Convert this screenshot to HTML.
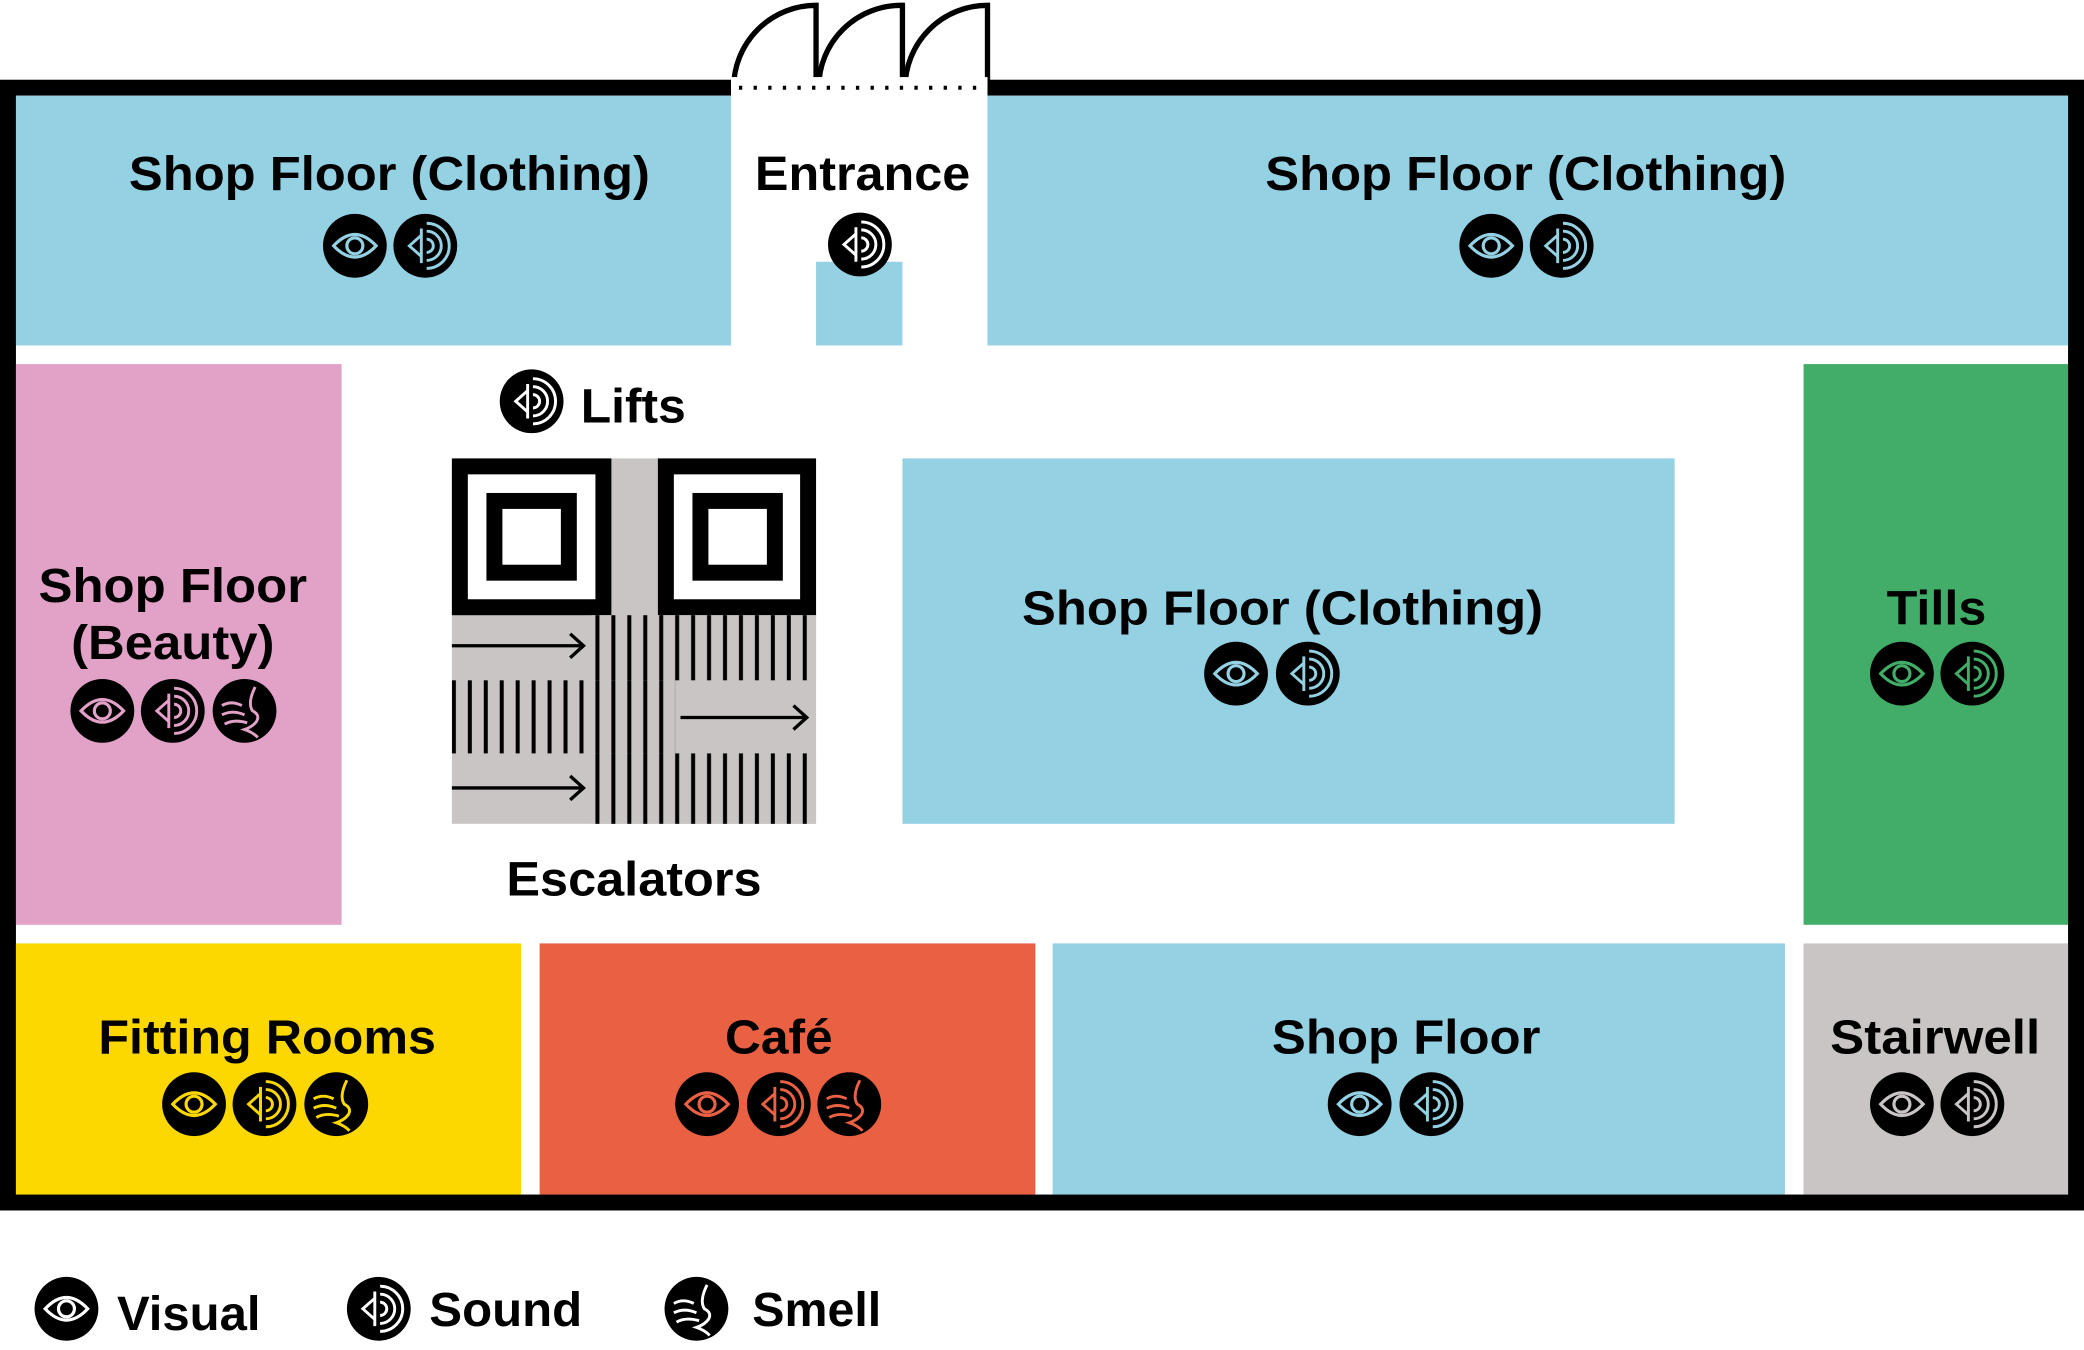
<!DOCTYPE html>
<html><head><meta charset="utf-8"><style>
html,body{margin:0;padding:0;background:#fff;}
svg{display:block;}
text{font-family:"Liberation Sans",Arial,sans-serif;font-weight:bold;fill:#000;}
</style></head><body>
<svg width="2084" height="1350" viewBox="0 0 1568 1016" preserveAspectRatio="none" xmlns="http://www.w3.org/2000/svg">
<defs>
<g id="eye">
<ellipse cx="0" cy="0" rx="24" ry="24" fill="#000"/>
<path d="M-16,0 Q0,-17 16,0 Q0,17 -16,0 Z" fill="none" stroke="currentColor" stroke-width="2.4"/>
<circle cx="0" cy="0" r="6" fill="none" stroke="currentColor" stroke-width="2.4"/>
</g>
<g id="snd">
<ellipse cx="0" cy="0" rx="24" ry="24" fill="#000"/>
<path d="M-3,-13 L-3,13 M-3,-8 L-12,0 L-3,8" fill="none" stroke="currentColor" stroke-width="2.2"/>
<path d="M1,-5 A5,5 0 0 1 1,5" fill="none" stroke="currentColor" stroke-width="2.2"/>
<path d="M1,-11 A11,11 0 0 1 1,11" fill="none" stroke="currentColor" stroke-width="2.2"/>
<path d="M1,-17 A17,17 0 0 1 1,17" fill="none" stroke="currentColor" stroke-width="2.2"/>
</g>
<g id="sml">
<ellipse cx="0" cy="0" rx="24" ry="24" fill="#000"/>
<path d="M-17,-4 Q-10,-8 -2,-4 M-17,3 Q-9,-1 0,3 M-15,10 Q-8,6 2,9" fill="none" stroke="currentColor" stroke-width="2.2"/>
<path d="M8,-18 Q2,-6 6,0 Q12,3 9,8 Q6,12 0,14 Q6,16 10,20" fill="none" stroke="currentColor" stroke-width="2.2"/>
</g>
<pattern id="hatch" x="0" y="0" width="12" height="10" patternUnits="userSpaceOnUse">
<rect width="12" height="10" fill="#c9c5c5"/><rect x="4" width="3" height="10" fill="#000"/>
</pattern>
</defs>

<!-- doors -->
<g fill="none" stroke="#000" stroke-width="4">
<path d="M552,66 A62,62 0 0 1 614,4 L614,66"/>
<path d="M616,66 A62,62 0 0 1 679,4 L679,66"/>
<path d="M681,66 A62,62 0 0 1 743,4 L743,66"/>
</g>

<!-- outer wall -->
<rect x="6" y="66" width="1556" height="839" fill="none" stroke="#000" stroke-width="12"/>
<rect x="550" y="58" width="193" height="16" fill="#fff"/>
<line x1="556" y1="66" x2="743" y2="66" stroke="#000" stroke-width="3" stroke-dasharray="2.5,8.5"/>

<!-- rooms -->
<rect x="12" y="72" width="538" height="188" fill="#94d1e3"/>
<rect x="614" y="197" width="65" height="63" fill="#94d1e3"/>
<rect x="743" y="72" width="813" height="188" fill="#94d1e3"/>
<rect x="12" y="274" width="245" height="422" fill="#e2a2c8"/>
<rect x="679" y="345" width="581" height="275" fill="#94d1e3"/>
<rect x="1357" y="274" width="199" height="422" fill="#42ad69"/>
<rect x="12" y="710" width="380" height="189" fill="#fdd800"/>
<rect x="406" y="710" width="373" height="189" fill="#e96043"/>
<rect x="792" y="710" width="551" height="189" fill="#94d1e3"/>
<rect x="1357" y="710" width="199" height="189" fill="#c9c5c5"/>

<!-- lifts -->
<rect x="340" y="345" width="274" height="275" fill="#c9c5c5"/>
<rect x="346" y="351" width="108" height="106" fill="#fff" stroke="#000" stroke-width="12"/>
<rect x="372" y="377" width="56" height="54" fill="#fff" stroke="#000" stroke-width="12"/>
<rect x="501" y="351" width="107" height="106" fill="#fff" stroke="#000" stroke-width="12"/>
<rect x="527" y="377" width="56" height="54" fill="#fff" stroke="#000" stroke-width="12"/>
<!-- escalators -->
<rect x="445" y="463" width="169" height="49" fill="url(#hatch)"/>
<rect x="340" y="512" width="168" height="55" fill="url(#hatch)"/>
<rect x="445" y="567" width="169" height="53" fill="url(#hatch)"/>
<g fill="none" stroke="#000" stroke-width="2.5">
<path d="M340,486 L439,486 M429,477 L439,486 L429,495"/>
<path d="M512,540 L607,540 M597,531 L607,540 L597,549"/>
<path d="M340,593 L439,593 M429,584 L439,593 L429,602"/>
</g>

<!-- labels -->
<text x="293" y="143" font-size="36" text-anchor="middle" textLength="392" lengthAdjust="spacingAndGlyphs">Shop Floor (Clothing)</text>
<text x="649" y="143" font-size="36" text-anchor="middle" textLength="162" lengthAdjust="spacingAndGlyphs">Entrance</text>
<text x="1148" y="143" font-size="36" text-anchor="middle" textLength="392" lengthAdjust="spacingAndGlyphs">Shop Floor (Clothing)</text>
<text x="437" y="318" font-size="36" textLength="79" lengthAdjust="spacingAndGlyphs">Lifts</text>
<text x="130" y="453" font-size="36" text-anchor="middle" textLength="202" lengthAdjust="spacingAndGlyphs">Shop Floor</text>
<text x="130" y="496" font-size="36" text-anchor="middle" textLength="153" lengthAdjust="spacingAndGlyphs">(Beauty)</text>
<text x="965" y="470" font-size="36" text-anchor="middle" textLength="392" lengthAdjust="spacingAndGlyphs">Shop Floor (Clothing)</text>
<text x="1457" y="470" font-size="36" text-anchor="middle" textLength="75" lengthAdjust="spacingAndGlyphs">Tills</text>
<text x="477" y="674" font-size="36" text-anchor="middle" textLength="192" lengthAdjust="spacingAndGlyphs">Escalators</text>
<text x="201" y="793" font-size="36" text-anchor="middle" textLength="254" lengthAdjust="spacingAndGlyphs">Fitting Rooms</text>
<text x="586" y="793" font-size="36" text-anchor="middle" textLength="81" lengthAdjust="spacingAndGlyphs">Café</text>
<text x="1058" y="793" font-size="36" text-anchor="middle" textLength="202" lengthAdjust="spacingAndGlyphs">Shop Floor</text>
<text x="1456" y="793" font-size="36" text-anchor="middle" textLength="158" lengthAdjust="spacingAndGlyphs">Stairwell</text>

<!-- icons -->
<use href="#eye" x="267" y="185" style="color:#94d1e3"/>
<use href="#snd" x="320" y="185" style="color:#94d1e3"/>
<use href="#snd" x="647" y="184" style="color:#fff"/>
<use href="#eye" x="1122" y="185" style="color:#94d1e3"/>
<use href="#snd" x="1175" y="185" style="color:#94d1e3"/>
<use href="#snd" x="400" y="302" style="color:#fff"/>
<use href="#eye" x="77" y="535" style="color:#e2a2c8"/>
<use href="#snd" x="130" y="535" style="color:#e2a2c8"/>
<use href="#sml" x="184" y="535" style="color:#e2a2c8"/>
<use href="#eye" x="930" y="507" style="color:#94d1e3"/>
<use href="#snd" x="984" y="507" style="color:#94d1e3"/>
<use href="#eye" x="1431" y="507" style="color:#42ad69"/>
<use href="#snd" x="1484" y="507" style="color:#42ad69"/>
<use href="#eye" x="146" y="831" style="color:#fdd800"/>
<use href="#snd" x="199" y="831" style="color:#fdd800"/>
<use href="#sml" x="253" y="831" style="color:#fdd800"/>
<use href="#eye" x="532" y="831" style="color:#e96043"/>
<use href="#snd" x="586" y="831" style="color:#e96043"/>
<use href="#sml" x="639" y="831" style="color:#e96043"/>
<use href="#eye" x="1023" y="831" style="color:#94d1e3"/>
<use href="#snd" x="1077" y="831" style="color:#94d1e3"/>
<use href="#eye" x="1431" y="831" style="color:#c9c5c5"/>
<use href="#snd" x="1484" y="831" style="color:#c9c5c5"/>

<!-- legend -->
<use href="#eye" x="50" y="985" style="color:#fff"/>
<use href="#snd" x="285" y="985" style="color:#fff"/>
<use href="#sml" x="524" y="985" style="color:#fff"/>
<text x="88" y="1001" font-size="36" textLength="108" lengthAdjust="spacingAndGlyphs">Visual</text>
<text x="323" y="998" font-size="36" textLength="115" lengthAdjust="spacingAndGlyphs">Sound</text>
<text x="566" y="998" font-size="36" textLength="97" lengthAdjust="spacingAndGlyphs">Smell</text>
</svg>
</body></html>
